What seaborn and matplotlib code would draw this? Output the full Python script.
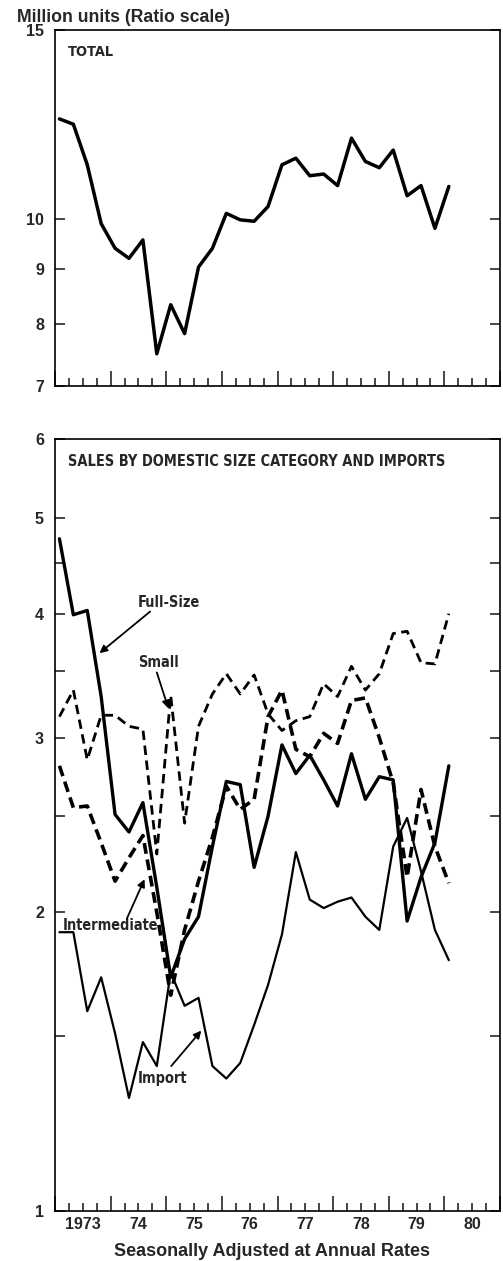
import numpy as np
import pandas as pd
import matplotlib
matplotlib.use("Agg")
import matplotlib.pyplot as plt
import matplotlib.transforms as mtransforms
from matplotlib import font_manager as fm
from matplotlib.ticker import FixedLocator, FixedFormatter, NullLocator, NullFormatter
import seaborn as sns

# ---------------- data (quarterly, 1973Q1 .. 1980Q1), million units, SAAR -------------
quarters = [f"{y}Q{q}" for y in range(1973, 1981) for q in range(1, 5)][:29]

total = [12.40, 12.26, 11.24, 9.91, 9.40, 9.20, 9.57, 7.50, 8.33, 7.83,
         9.03, 9.40, 10.13, 9.99, 9.96, 10.28, 11.24, 11.40, 10.98, 11.02,
         10.75, 11.90, 11.32, 11.17, 11.60, 10.52, 10.75, 9.81, 10.73]

full_size = [4.76, 3.99, 4.03, 3.30, 2.51, 2.41, 2.58, 2.12, 1.72, 1.88,
             1.98, 2.33, 2.71, 2.69, 2.22, 2.50, 2.95, 2.76, 2.88, 2.72,
             2.56, 2.89, 2.60, 2.74, 2.72, 1.96, 2.17, 2.35, 2.81]

small = [3.15, 3.35, 2.85, 3.16, 3.16, 3.08, 3.06, 2.29, 3.31, 2.46,
         3.08, 3.32, 3.48, 3.32, 3.47, 3.17, 3.05, 3.12, 3.15, 3.40,
         3.30, 3.54, 3.35, 3.48, 3.82, 3.84, 3.57, 3.56, 4.00]

intermediate = [2.81, 2.55, 2.56, 2.35, 2.15, 2.27, 2.39, 2.00, 1.65, 1.92,
                2.15, 2.38, 2.68, 2.54, 2.60, 3.15, 3.35, 2.92, 2.87, 3.03,
                2.96, 3.27, 3.29, 3.00, 2.70, 2.17, 2.66, 2.33, 2.14]

imports = [1.91, 1.91, 1.59, 1.72, 1.51, 1.30, 1.48, 1.40, 1.74, 1.61,
           1.64, 1.40, 1.36, 1.41, 1.54, 1.69, 1.90, 2.30, 2.06, 2.02,
           2.05, 2.07, 1.98, 1.92, 2.33, 2.49, 2.20, 1.92, 1.79]

year_labels = ["1973", "74", "75", "76", "77", "78", "79", "80"]
top_ticks = [7, 8, 9, 10, 15]
bottom_ticks = [1, 2, 3, 4, 5, 6]
bottom_minor = [1.5, 2.5, 3.5, 4.5]

# ---------------- style -------------
sns.set_style("ticks")
plt.rcParams["font.family"] = ["Liberation Sans", "DejaVu Sans"]


def find_condensed():
    """Return FontProperties of a bold condensed/narrow sans font if installed."""
    prefs = ["Liberation Sans Narrow", "DejaVu Sans Condensed", "Noto Sans Condensed",
             "Roboto Condensed", "Open Sans Condensed", "Noto Sans", "Open Sans"]
    best = None
    best_score = None
    for f in fm.fontManager.ttflist:
        name = f.name
        fname = f.fname.lower()
        is_cond = ("narrow" in name.lower() or "condensed" in name.lower()
                   or "condensed" in fname or "narrow" in fname
                   or str(f.stretch) in ("condensed", "semi-condensed", "extra-condensed"))
        if not is_cond or "italic" in fname or "oblique" in fname or f.style != "normal":
            continue
        if "extracondensed" in fname.replace("-", "") or "ultra" in fname:
            continue
        w = f.weight if isinstance(f.weight, int) else 700 if "bold" in str(f.weight) else 400
        score = abs(w - 700)
        base = next((i for i, p in enumerate(prefs) if name.startswith(p.split()[0])), 10)
        key = (score, base)
        if best_score is None or key < best_score:
            best, best_score = f, key
    if best is not None:
        return fm.FontProperties(fname=best.fname)
    return fm.FontProperties(family=["Liberation Sans", "DejaVu Sans"], weight="bold")


COND = find_condensed()


# x position of each quarter (plotted a month into the quarter)
def qpos(label):
    y, q = label.split("Q")
    return int(y) + (int(q) - 1) / 4 + 0.08


t = np.array([qpos(q) for q in quarters])

W, H = 503, 1261
fig = plt.figure(figsize=(W / 100, H / 100), dpi=100)
fig.patch.set_facecolor("white")
ax1 = fig.add_axes([55 / W, 1 - 386 / H, 445 / W, 356 / H])
ax2 = fig.add_axes([55 / W, 1 - 1211 / H, 445 / W, 772 / H])

# ---------------- top panel -------------
sns.lineplot(x=t, y=total, ax=ax1, color="black", linewidth=2.5,
             estimator=None, sort=False)

# ---------------- bottom panel -------------
df = pd.DataFrame({
    "t": np.concatenate([t] * 4),
    "value": full_size + small + intermediate + imports,
    "series": (["Full-Size"] * 29 + ["Small"] * 29 +
               ["Intermediate"] * 29 + ["Import"] * 29),
})
order = ["Full-Size", "Small", "Intermediate", "Import"]
sns.lineplot(data=df, x="t", y="value", hue="series", style="series",
             size="series", hue_order=order, style_order=order, size_order=order,
             palette={k: "black" for k in order},
             dashes={"Full-Size": "", "Import": "",
                     "Small": (3.4, 2.0), "Intermediate": (3.0, 1.6)},
             sizes={"Full-Size": 2.4, "Import": 1.6,
                    "Small": 2.0, "Intermediate": 2.6},
             estimator=None, sort=False, legend=False, ax=ax2)

for ax in (ax1, ax2):
    ax.set_yscale("log")
    ax.set_xlim(1973, 1981)
    ax.set_xlabel("")
    ax.set_ylabel("")
    for s in ax.spines.values():
        s.set_visible(True)
        s.set_linewidth(1.2)
        s.set_color("black")
    ax.xaxis.set_major_locator(FixedLocator(range(1973, 1982)))
    ax.xaxis.set_minor_locator(FixedLocator([y + q / 4 for y in range(1973, 1981)
                                             for q in (1, 2, 3)]))
    ax.xaxis.set_major_formatter(NullFormatter())
    ax.tick_params(axis="x", which="major", direction="in", length=11, width=1.2,
                   bottom=True, top=False, labelbottom=False)
    ax.tick_params(axis="x", which="minor", direction="in", length=5.5, width=1.2,
                   bottom=True, top=False)
    ax.tick_params(axis="y", which="both", direction="in", length=7, width=1.2,
                   left=True, right=True, labelsize=11.5, pad=8)

ax1.set_ylim(7, 15)
ax1.yaxis.set_major_locator(FixedLocator(top_ticks))
ax1.yaxis.set_major_formatter(FixedFormatter([str(v) for v in top_ticks]))
ax1.yaxis.set_minor_locator(NullLocator())
ax1.yaxis.set_minor_formatter(NullFormatter())

ax2.set_ylim(1, 6)
ax2.yaxis.set_major_locator(FixedLocator(bottom_ticks))
ax2.yaxis.set_major_formatter(FixedFormatter([str(v) for v in bottom_ticks]))
ax2.yaxis.set_minor_locator(FixedLocator(bottom_minor))
ax2.yaxis.set_minor_formatter(NullFormatter())

for ax in (ax1, ax2):
    for lab in ax.get_yticklabels():
        lab.set_fontweight("bold")
        lab.set_fontsize(11.5)

# year labels centred under each year
trans = mtransforms.blended_transform_factory(ax2.transData, ax2.transAxes)
for i, lab in enumerate(year_labels):
    ax2.text(1973.5 + i, -0.018, lab, transform=trans, ha="center", va="center",
             fontsize=11.5, fontweight="bold")

# ---------------- texts (with target widths in pixels from the reference) -------------
plain = []
tx = fig.text(17 / W, 1 - 18 / H, "Million units (Ratio scale)", ha="left", va="center",
              fontsize=11, fontweight="bold")
plain.append((tx, 214))
tx = fig.text(272 / W, 1 - 1252 / H, "Seasonally Adjusted at Annual Rates", ha="center",
              va="center", fontsize=11, fontweight="bold")
plain.append((tx, 316))


def cond_text(ax, x, y, s, **kw):
    fp = COND.copy()
    fp.set_size(11)
    return ax.text(x, y, s, ha="left", va="center", fontproperties=fp, **kw)


title_txt = cond_text(ax2, 0.029, 0.9715, "SALES BY DOMESTIC SIZE CATEGORY AND IMPORTS",
                      transform=ax2.transAxes)
small_txts = [(cond_text(ax1, 0.029, 0.938, "TOTAL", transform=ax1.transAxes), 41)]

labels = [
    ("Full-Size", 57, (1974.49, 4.11), (1974.71, 4.02), (1973.80, 3.65)),
    ("Small", 37, (1974.49, 3.57), (1974.83, 3.49), (1975.04, 3.21)),
    ("Intermediate", 87, (1973.14, 1.94), (1974.29, 1.97), (1974.61, 2.16)),
    ("Import", 49, (1974.49, 1.36), (1975.09, 1.40), (1975.63, 1.52)),
]
for name, target, txy, tail, head in labels:
    small_txts.append((cond_text(ax2, txy[0], txy[1], name), target))
    ax2.annotate("", xy=head, xytext=tail,
                 arrowprops=dict(arrowstyle="-|>", color="black", lw=1.3,
                                 mutation_scale=11, shrinkA=0, shrinkB=0))

fig.canvas.draw()
renderer = fig.canvas.get_renderer()
for txt, target in plain:
    w = txt.get_window_extent(renderer).width
    txt.set_fontsize(txt.get_fontsize() * target / w)

w = title_txt.get_window_extent(renderer).width
title_size = title_txt.get_fontsize() * 376 / w
title_txt.set_fontsize(title_size)

for txt, target in small_txts:
    w = txt.get_window_extent(renderer).width
    size_w = txt.get_fontsize() * 1.12 * target / w
    txt.set_fontsize(min(title_size, size_w))

fig.savefig("out.png", dpi=100, facecolor="white")
